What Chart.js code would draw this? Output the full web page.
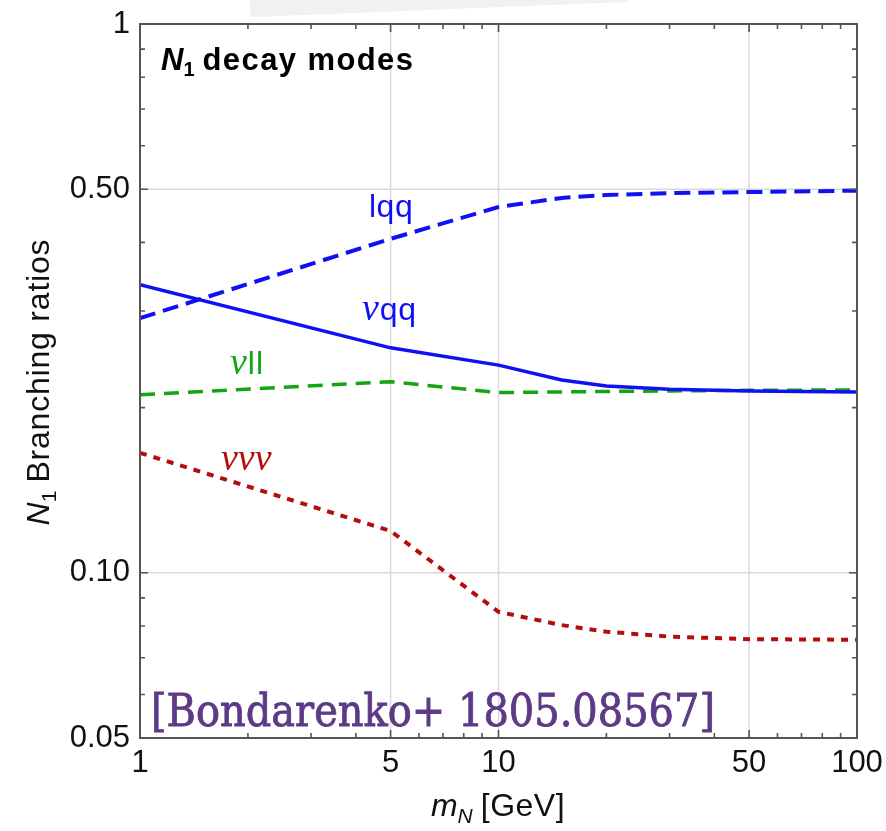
<!DOCTYPE html>
<html>
<head>
<meta charset="utf-8">
<script src="https://cdn.jsdelivr.net/npm/chart.js@4.4.1/dist/chart.umd.min.js"></script>
<style>
  html, body { margin: 0; padding: 0; background: #fff; overflow: hidden; }
  #wrap { width: 886px; height: 831px; position: relative; }
  #br { display: block; }
</style>
</head>
<body>
<div id="wrap"><canvas id="br"></canvas></div>
<script>
// N1 branching ratios vs heavy neutrino mass
const massGeV   = [1, 5, 10, 15, 20, 30, 50, 100];
const brLqq     = [0.291, 0.406, 0.464, 0.482, 0.488, 0.492, 0.494, 0.497];
const brNuqq    = [0.335, 0.257, 0.239, 0.2245, 0.219, 0.216, 0.2145, 0.2136];
const brNull    = [0.211, 0.223, 0.213, 0.2136, 0.214, 0.2145, 0.215, 0.2154];
const brNununu  = [0.1654, 0.1192, 0.0849, 0.0803, 0.0781, 0.0765, 0.0757, 0.0755];

const xTickValues = [1, 5, 10, 50, 100];
const xTickLabels = ['1', '5', '10', '50', '100'];
const xMinorTicks = [2, 3, 4, 6, 7, 8, 9, 20, 30, 40, 60, 70, 80, 90];
const yTickValues = [0.05, 0.1, 0.5, 1];
const yTickLabels = ['0.05', '0.10', '0.50', '1'];
const yMinorTicks = [0.06, 0.07, 0.08, 0.09, 0.2, 0.3, 0.4, 0.6, 0.7, 0.8, 0.9];
const xGridValues = [5, 10, 50];
const yGridValues = [0.1, 0.5];

const SANS = "'Liberation Sans', Arial, Helvetica, sans-serif";
const SERIF = "'Liberation Serif', 'Times New Roman', serif";
const BLUE = '#1010f5';
const GREEN = '#14a514';
const RED = '#b30d0d';

function series(ys) {
    return massGeV.map((x, i) => ({ x, y: ys[i] }));
}

// draw a run of text pieces with their own fonts / vertical offsets
function drawRuns(ctx, runs, x, y, color) {
    ctx.fillStyle = color;
    ctx.textBaseline = 'alphabetic';
    ctx.textAlign = 'left';
    let cx = x;
    runs.forEach(r => {
        ctx.font = r.font;
        ctx.letterSpacing = r.ls || '0px';
        ctx.fillText(r.t, cx, y + (r.dy || 0));
        cx += ctx.measureText(r.t).width + (r.gap || 0);
    });
    ctx.letterSpacing = '0px';
    return cx - x;
}

function runsWidth(ctx, runs) {
    let w = 0;
    runs.forEach(r => {
        ctx.font = r.font;
        ctx.letterSpacing = r.ls || '0px';
        w += ctx.measureText(r.t).width + (r.gap || 0);
    });
    ctx.letterSpacing = '0px';
    return w;
}

const framePlugin = {
    id: 'frame',
    beforeDraw(chart) {
        const ctx = chart.ctx;
        // faint grey strip left over at the top of the slide
        ctx.save();
        ctx.fillStyle = '#f1f1f1';
        ctx.beginPath();
        ctx.moveTo(250, 0); ctx.lineTo(628, 0); ctx.lineTo(626, 2);
        ctx.lineTo(254, 17); ctx.lineTo(250, 14);
        ctx.closePath(); ctx.fill();
        ctx.restore();
    },
    beforeDatasetsDraw(chart) {
        const { ctx, chartArea: a, scales: { x, y } } = chart;
        ctx.save();
        ctx.strokeStyle = '#dadada';
        ctx.lineWidth = 1.5;
        xGridValues.forEach(v => {
            const px = x.getPixelForValue(v);
            ctx.beginPath(); ctx.moveTo(px, a.top); ctx.lineTo(px, a.bottom); ctx.stroke();
        });
        yGridValues.forEach(v => {
            const py = y.getPixelForValue(v);
            ctx.beginPath(); ctx.moveTo(a.left, py); ctx.lineTo(a.right, py); ctx.stroke();
        });
        ctx.restore();
    },
    afterDatasetsDraw(chart) {
        const { ctx, chartArea: a, scales: { x, y } } = chart;
        ctx.save();
        ctx.strokeStyle = '#555';
        ctx.lineWidth = 1.6;
        const tick = (vals, len) => {
            vals.forEach(v => {
                const px = x.getPixelForValue(v);
                ctx.beginPath();
                ctx.moveTo(px, a.bottom); ctx.lineTo(px, a.bottom - len);
                ctx.moveTo(px, a.top); ctx.lineTo(px, a.top + len);
                ctx.stroke();
            });
        };
        const ytick = (vals, len) => {
            vals.forEach(v => {
                const py = y.getPixelForValue(v);
                ctx.beginPath();
                ctx.moveTo(a.left, py); ctx.lineTo(a.left + len, py);
                ctx.moveTo(a.right, py); ctx.lineTo(a.right - len, py);
                ctx.stroke();
            });
        };
        tick(xTickValues, 8); tick(xMinorTicks, 5);
        ytick(yTickValues, 8); ytick(yMinorTicks, 5);
        ctx.lineWidth = 2;
        ctx.strokeRect(a.left, a.top, a.right - a.left, a.bottom - a.top);
        ctx.restore();
    },
    afterDraw(chart) {
        const { ctx } = chart;
        ctx.save();

        // panel title
        drawRuns(ctx, [
            { t: 'N', font: `italic bold 31px ${SANS}` },
            { t: '1', font: `bold 20px ${SANS}`, dy: 6, gap: 8 },
            { t: 'decay modes', font: `bold 31px ${SANS}`, ls: '1.4px' }
        ], 161, 70, '#000');

        // curve labels
        drawRuns(ctx, [{ t: 'lqq', font: `32px ${SANS}`, ls: '0.5px' }], 369, 217, BLUE);
        drawRuns(ctx, [
            { t: 'ν', font: `italic 38px ${SERIF}`, gap: 1 },
            { t: 'qq', font: `32px ${SANS}`, ls: '0.5px' }
        ], 362, 320, BLUE);
        drawRuns(ctx, [
            { t: 'ν', font: `italic 38px ${SERIF}`, gap: 1 },
            { t: 'll', font: `32px ${SANS}`, ls: '1px' }
        ], 230, 374, GREEN);
        drawRuns(ctx, [{ t: 'ννν', font: `italic 38px ${SERIF}` }], 221, 470, RED);

        // x axis title
        const xRuns = [
            { t: 'm', font: `italic 32px ${SANS}` },
            { t: 'N', font: `italic 21px ${SANS}`, dy: 7, gap: 8 },
            { t: '[GeV]', font: `32px ${SANS}`, ls: '0.5px' }
        ];
        const xw = runsWidth(ctx, xRuns);
        drawRuns(ctx, xRuns, 498 - xw / 2, 816, '#111');

        // y axis title, rotated
        const yRuns = [
            { t: 'N', font: `italic 32px ${SANS}` },
            { t: '1', font: `21px ${SANS}`, dy: 7, gap: 8 },
            { t: 'Branching ratios', font: `32px ${SANS}`, ls: '0.8px' }
        ];
        const yw = runsWidth(ctx, yRuns);
        ctx.save();
        ctx.translate(49, 382);
        ctx.rotate(-Math.PI / 2);
        drawRuns(ctx, yRuns, -yw / 2, 0, '#111');
        ctx.restore();

        // reference tag, slab serif squeezed to the width in the picture
        ctx.save();
        const ref = '[Bondarenko+ 1805.08567]';
        ctx.font = `45px 'DejaVu Serif', serif`;
        const rw = ctx.measureText(ref).width;
        ctx.translate(151, 726);
        ctx.scale(564 / rw, 1);
        ctx.fillStyle = '#5d3a86';
        ctx.strokeStyle = '#5d3a86';
        ctx.lineWidth = 0.9;
        ctx.textBaseline = 'alphabetic';
        ctx.fillText(ref, 0, 0);
        ctx.strokeText(ref, 0, 0);
        ctx.restore();

        ctx.restore();
    }
};

const lineDefaults = { showLine: true, pointRadius: 0, fill: false, tension: 0, borderCapStyle: 'butt' };

new Chart(document.getElementById('br'), {
    type: 'scatter',
    data: {
        datasets: [
            { ...lineDefaults, label: 'lqq', data: series(brLqq), borderColor: BLUE, borderWidth: 4, borderDash: [16, 8] },
            { ...lineDefaults, label: 'νqq', data: series(brNuqq), borderColor: BLUE, borderWidth: 3.5 },
            { ...lineDefaults, label: 'νll', data: series(brNull), borderColor: GREEN, borderWidth: 3.5, borderDash: [15, 9] },
            { ...lineDefaults, label: 'ννν', data: series(brNununu), borderColor: RED, borderWidth: 4, borderDash: [7, 7] }
        ]
    },
    options: {
        responsive: true,
        maintainAspectRatio: false,
        animation: false,
        layout: { padding: { top: 24, right: 29, left: 0, bottom: 0 } },
        plugins: { legend: { display: false }, tooltip: { enabled: false } },
        scales: {
            x: {
                type: 'logarithmic',
                min: 1, max: 100,
                grid: { display: false, drawTicks: false },
                border: { display: false },
                afterBuildTicks: s => { s.ticks = xTickValues.map(v => ({ value: v })); },
                afterFit: s => { s.height = 93; s.paddingLeft = 0; s.paddingRight = 0; },
                ticks: {
                    autoSkip: false, maxRotation: 0, padding: 7,
                    color: '#111', font: { family: SANS, size: 31 },
                    callback: (v, i) => xTickLabels[i]
                }
            },
            y: {
                type: 'logarithmic',
                min: 0.05, max: 1,
                grid: { display: false, drawTicks: false },
                border: { display: false },
                afterBuildTicks: s => { s.ticks = yTickValues.map(v => ({ value: v })); },
                afterFit: s => { s.width = 140; s.paddingTop = 0; s.paddingBottom = 0; },
                ticks: {
                    autoSkip: false, padding: 10,
                    color: '#111', font: { family: SANS, size: 31 },
                    callback: (v, i) => yTickLabels[i]
                }
            }
        }
    },
    plugins: [framePlugin]
});
</script>
</body>
</html>
